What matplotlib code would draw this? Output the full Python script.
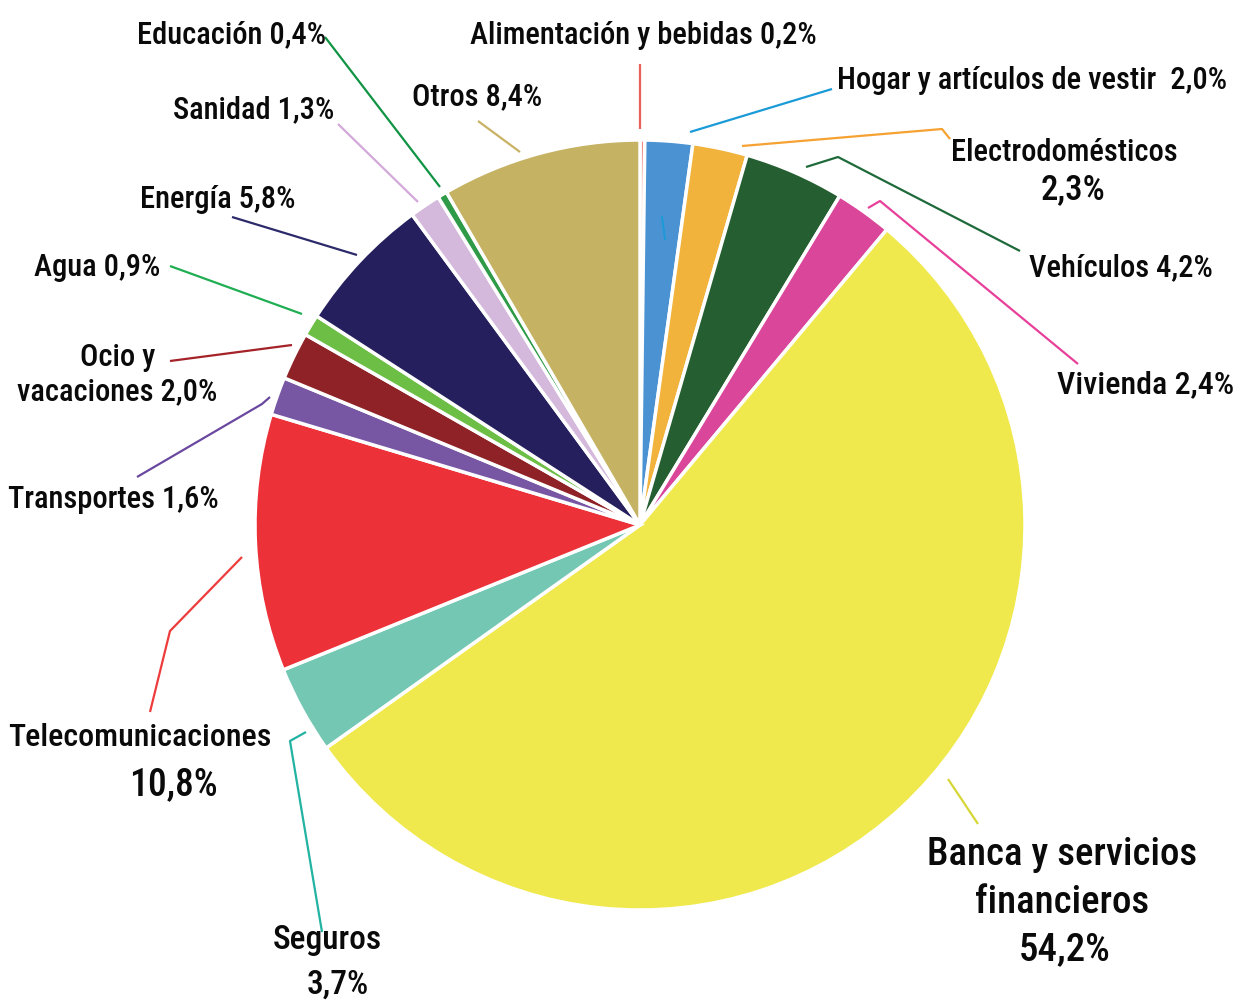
import matplotlib
matplotlib.use("Agg")
import matplotlib.pyplot as plt
from matplotlib import font_manager

# slices, clockwise from 12 o'clock
categories = ["Alimentación y bebidas", "Hogar y artículos de vestir", "Electrodomésticos",
              "Vehículos", "Vivienda", "Banca y servicios financieros", "Seguros",
              "Telecomunicaciones", "Transportes", "Ocio y vacaciones", "Agua",
              "Energía", "Sanidad", "Educación", "Otros"]
shares = [0.2, 2.0, 2.3, 4.2, 2.4, 54.2, 3.7, 10.8, 1.6, 2.0, 0.9, 5.8, 1.3, 0.4, 8.4]
pct_text = ["0,2%", "2,0%", "2,3%", "4,2%", "2,4%", "54,2%", "3,7%", "10,8%", "1,6%",
            "2,0%", "0,9%", "5,8%", "1,3%", "0,4%", "8,4%"]
colors = ["#f28a84", "#4a92d2", "#f1b33c", "#255f31", "#d9469a", "#f0e94d", "#73c7b3",
          "#ec3138", "#7756a3", "#8e2227", "#6cbe45", "#25205d", "#d5b9dc", "#2f9a48",
          "#c5b263"]
line_colors = ["#e8605a", "#1a9bd7", "#f5a232", "#1e6a3a", "#e8409a", "#d6d636", "#22b3a2",
               "#ee3b3b", "#6a48a0", "#a42228", "#1fae52", "#2c2a6a", "#d2a9d9", "#109444",
               "#c9b264"]

W, H = 1240, 1003
avail = {f.name for f in font_manager.fontManager.ttflist}
FONT = next((f for f in ["Roboto Condensed", "Liberation Sans Narrow", "DejaVu Sans"]
             if f in avail), "DejaVu Sans")
INK = "#0a0a0a"

fig = plt.figure(figsize=(W / 100, H / 100), dpi=100)
ax = fig.add_axes([0, 0, 1, 1])


def P(x, y):
    return x, H - y


def say(x, y, s, size=22, ha="center"):
    ax.text(x, H - y, s, ha=ha, va="center", fontsize=size, family=FONT,
            fontweight=500, color=INK)


ax.pie(shares, colors=colors, startangle=90, counterclock=False,
       center=P(640, 526), radius=385,
       wedgeprops=dict(edgecolor="white", linewidth=2.5))
ax.set_xlim(0, W)
ax.set_ylim(0, H)
ax.set_aspect("equal")
ax.axis("off")

# leader polylines (px), one per slice
leaders = [
    [(640, 65), (640, 130)],
    [(690, 133), (832, 90)],
    [(742, 147), (942, 130), (950, 140)],
    [(806, 168), (838, 158), (1020, 252)],
    [(868, 209), (880, 202), (1078, 365)],
    [(948, 780), (978, 825)],
    [(306, 733), (290, 742), (322, 933)],
    [(242, 558), (170, 632), (150, 713)],
    [(270, 398), (262, 405), (137, 478)],
    [(170, 362), (292, 346)],
    [(170, 267), (302, 315)],
    [(232, 218), (357, 256)],
    [(338, 125), (418, 203)],
    [(325, 38), (440, 188)],
    [(478, 122), (520, 153)],
]
for lc, pts in zip(line_colors, leaders):
    xs, ys = zip(*[P(*p) for p in pts])
    ax.plot(xs, ys, color=lc, linewidth=1.6, solid_capstyle="butt")

# stray tick inside the blue slice
ax.plot(*zip(P(662, 218), P(665, 240)), color="#1a9bd7", linewidth=1.4)

c, p = categories, pct_text
say(643, 35, f"{c[0]} {p[0]}")
say(1032, 80, f"{c[1]}  {p[1]}")
say(1064, 152, c[2])
say(1073, 190, p[2], 25)
say(1121, 268, f"{c[3]} {p[3]}")
say(1146, 385, f"{c[4]} {p[4]}", 23)
say(1062, 855, "Banca y servicios", 28)
say(1062, 903, "financieros", 28)
say(1065, 950, p[5], 28)
say(327, 940, c[6], 24)
say(338, 985, p[6], 24)
say(140, 737, c[7], 23)
say(173, 785, p[7], 27)
say(113, 500, f"{c[8]} {p[8]}")
say(155, 358, "Ocio y", ha="right")
say(217, 392, f"vacaciones {p[9]}", ha="right")
say(97, 268, f"{c[10]} {p[10]}")
say(218, 199, f"{c[11]} {p[11]}")
say(254, 110, f"{c[12]} {p[12]}")
say(232, 35, f"{c[13]} {p[13]}")
say(477, 97, f"{c[14]} {p[14]}")

fig.savefig("out.png", dpi=100, facecolor="white")
